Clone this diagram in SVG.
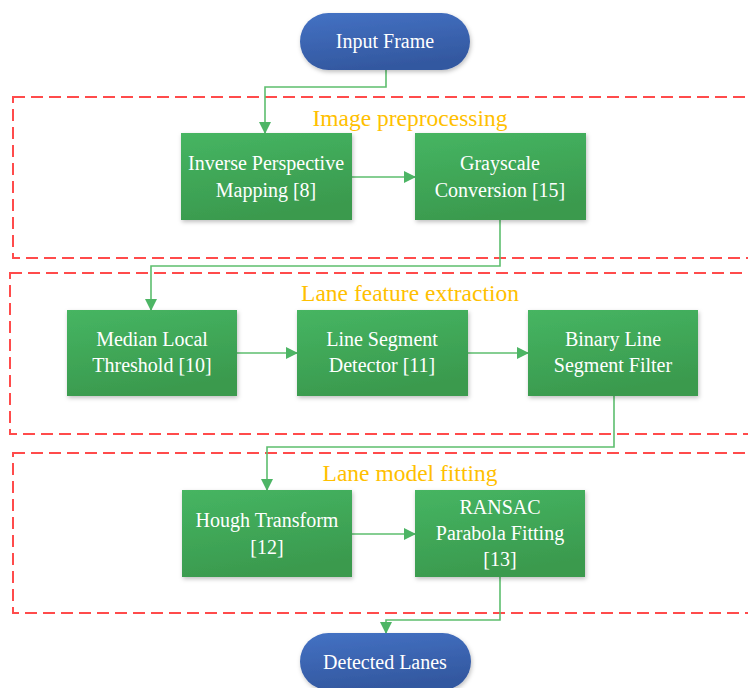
<svg xmlns="http://www.w3.org/2000/svg" width="748" height="688" viewBox="0 0 748 688" font-family="Liberation Serif, DejaVu Serif, serif">
<style>
.grp{fill:none;stroke:#FF4B4B;stroke-width:2;stroke-dasharray:12 6}
.box{fill:url(#g);filter:url(#sh)}
.pill{fill:url(#b);filter:url(#sh)}
.t{font-size:20px;fill:#fff;text-anchor:middle}
.ttl{font-size:23.5px;fill:#FFC000;text-anchor:middle}
.c{fill:none;stroke:#5DBE6E;stroke-width:1.6}
</style>
<defs>
<linearGradient id="g" x1="0" y1="0" x2="0.3" y2="1">
<stop offset="0" stop-color="#46B562"/><stop offset="1" stop-color="#3A9A4E"/>
</linearGradient>
<linearGradient id="b" x1="0" y1="0" x2="0.3" y2="1">
<stop offset="0" stop-color="#4472C4"/><stop offset="1" stop-color="#3358A0"/>
</linearGradient>
<filter id="sh" x="-10%" y="-10%" width="130%" height="130%">
<feDropShadow dx="1" dy="2" stdDeviation="2" flood-color="#000" flood-opacity="0.25"/>
</filter>
<marker id="a" markerWidth="12" markerHeight="12" refX="11" refY="6" orient="auto" markerUnits="userSpaceOnUse">
<path d="M0,0 L12,6 L0,12 Z" fill="#4DB565"/>
</marker>
</defs>
<g id="groups">
<rect class="grp" x="13" y="97" width="760" height="161"/>
<rect class="grp" x="10" y="273" width="760" height="161"/>
<rect class="grp" x="13" y="453" width="760" height="160"/>
<text class="ttl" x="410" y="126">Image preprocessing</text>
<text class="ttl" x="410" y="301">Lane feature extraction</text>
<text class="ttl" x="410" y="481">Lane model fitting</text>
</g>
<g id="connectors">
<path class="c" d="M386,70 V87 H265 V133" marker-end="url(#a)"/>
<path class="c" d="M352,177 H415" marker-end="url(#a)"/>
<path class="c" d="M500,220 V266 H151 V310" marker-end="url(#a)"/>
<path class="c" d="M237,353 H297" marker-end="url(#a)"/>
<path class="c" d="M468,353 H528" marker-end="url(#a)"/>
<path class="c" d="M614,396 V447 H267 V490" marker-end="url(#a)"/>
<path class="c" d="M352,534 H415" marker-end="url(#a)"/>
<path class="c" d="M500,577 V620 H386 V633" marker-end="url(#a)"/>
</g>
<g id="input">
<rect class="pill" x="300" y="13" width="170" height="57" rx="28.5"/>
<text class="t" x="385" y="48">Input Frame</text>
</g>
<g id="ipm">
<rect class="box" x="181" y="133" width="171" height="87"/>
<text class="t" x="266" y="170">Inverse Perspective</text>
<text class="t" x="266" y="197">Mapping [8]</text>
</g>
<g id="gray">
<rect class="box" x="415" y="133" width="171" height="87"/>
<text class="t" x="500" y="170">Grayscale</text>
<text class="t" x="500" y="197">Conversion [15]</text>
</g>
<g id="median">
<rect class="box" x="67" y="310" width="170" height="86"/>
<text class="t" x="152" y="346">Median Local</text>
<text class="t" x="152" y="372">Threshold [10]</text>
</g>
<g id="lsd">
<rect class="box" x="297" y="310" width="171" height="86"/>
<text class="t" x="382" y="346">Line Segment</text>
<text class="t" x="382" y="372">Detector [11]</text>
</g>
<g id="binary">
<rect class="box" x="528" y="310" width="170" height="86"/>
<text class="t" x="613" y="346">Binary Line</text>
<text class="t" x="613" y="372">Segment Filter</text>
</g>
<g id="hough">
<rect class="box" x="182" y="490" width="170" height="87"/>
<text class="t" x="267" y="527">Hough Transform</text>
<text class="t" x="267" y="554">[12]</text>
</g>
<g id="ransac">
<rect class="box" x="415" y="490" width="170" height="87"/>
<text class="t" x="500" y="514">RANSAC</text>
<text class="t" x="500" y="540">Parabola Fitting</text>
<text class="t" x="500" y="566">[13]</text>
</g>
<g id="detected">
<rect class="pill" x="300" y="633" width="171" height="57" rx="28.5"/>
<text class="t" x="385" y="669">Detected Lanes</text>
</g>
</svg>
